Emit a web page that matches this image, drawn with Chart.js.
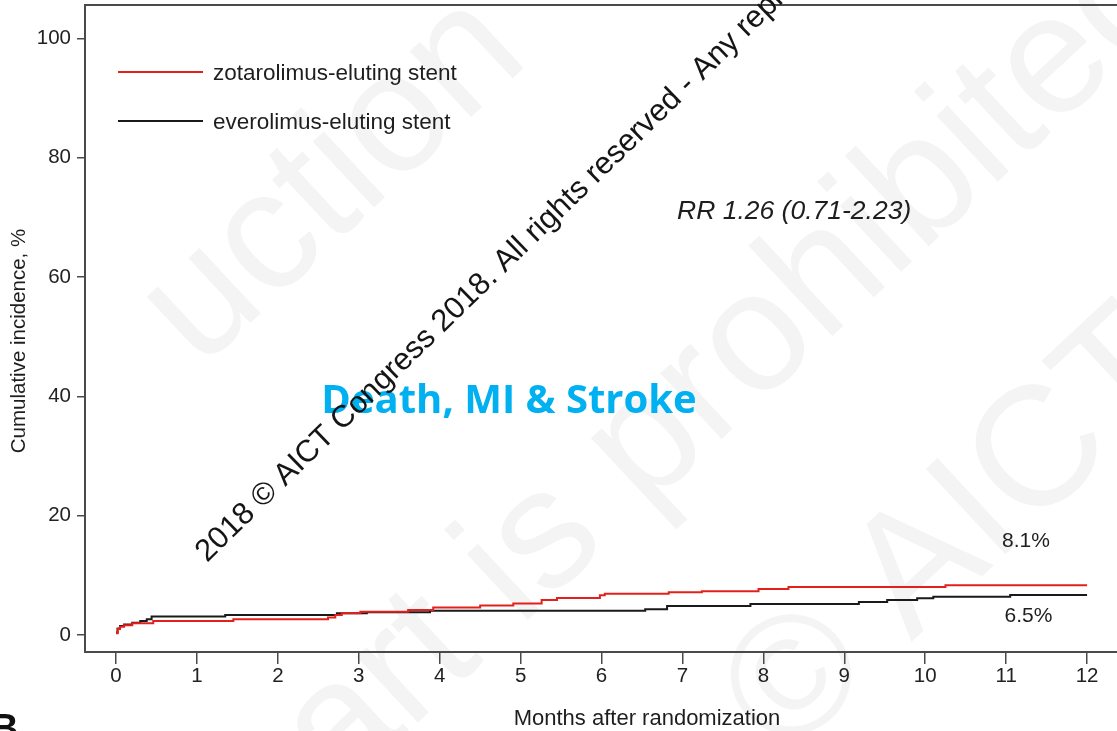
<!DOCTYPE html>
<html>
<head>
<meta charset="utf-8">
<script src="https://cdn.jsdelivr.net/npm/chart.js@4.4.1/dist/chart.umd.min.js"></script>
<style>
  html, body { margin: 0; padding: 0; background: #fff; overflow: hidden; }
  #wrap { width: 1117px; height: 731px; }
</style>
</head>
<body>
<div id="wrap"><canvas id="km" width="1117" height="731"></canvas></div>
<script>
// Kaplan-Meier style cumulative incidence
const seriesNames = ['zotarolimus-eluting stent', 'everolimus-eluting stent'];
const seriesColors = ['#e4201c', '#1a1a1a'];

const zotMonths = [0, 0.02, 0.05, 0.1, 0.2, 0.46, 1.45, 2.62, 2.71, 2.79, 3.02, 3.61, 3.92, 4.5, 4.91, 5.26, 5.45, 5.98, 6.04, 6.83, 7.24, 7.94, 8.31, 10.25, 12];
const zotPct    = [0.3, 1.0, 1.4, 1.65, 1.95, 2.35, 2.65, 2.95, 3.35, 3.65, 3.9, 4.2, 4.6, 4.95, 5.3, 5.85, 6.2, 6.65, 6.9, 7.15, 7.35, 7.7, 8.05, 8.35, 8.35];

const everMonths = [0, 0.02, 0.05, 0.1, 0.2, 0.3, 0.38, 0.44, 1.35, 2.73, 3.1, 3.88, 6.54, 6.81, 7.84, 9.18, 9.53, 9.9, 10.1, 11.05, 12];
const everPct    = [0.4, 1.1, 1.5, 1.75, 2.05, 2.35, 2.65, 3.08, 3.35, 3.65, 3.8, 4.05, 4.3, 4.85, 5.2, 5.55, 5.85, 6.15, 6.4, 6.7, 6.7];

const xTicks = [0, 1, 2, 3, 4, 5, 6, 7, 8, 9, 10, 11, 12];
const yTicks = [0, 20, 40, 60, 80, 100];
const endLabels = ['8.1%', '6.5%'];
const rrText = 'RR 1.26 (0.71-2.23)';
const xTitle = 'Months after randomization';
const yTitle = 'Cumulative incidence, %';
const panelTitle = 'Death, MI & Stroke';
const watermark = '2018 \u00A9 AICT Congress 2018. All rights reserved - Any reproduction';

const FONT = '"Liberation Sans", Arial, sans-serif';
const AXIS = '#4a4a4a';

function toPoints(xs, ys) {
    return xs.map((x, i) => ({ x: x, y: ys[i] }));
}

function rotatedText(ctx, text, x, y, deg) {
    ctx.save();
    ctx.translate(x, y);
    ctx.rotate(deg * Math.PI / 180);
    ctx.fillText(text, 0, 0);
    ctx.restore();
}

const decor = {
    id: 'decor',
    beforeDraw(chart) {
        // faint background watermark
        const ctx = chart.ctx;
        ctx.save();
        ctx.fillStyle = '#f4f4f4';
        ctx.font = '170px ' + FONT;
        ctx.textBaseline = 'alphabetic';
        rotatedText(ctx, 'uction', 200, 370, -43);
        rotatedText(ctx, 'art is prohibited', 340, 795, -43);
        rotatedText(ctx, '\u00A9 AICT', 785, 760, -43);
        ctx.restore();
    },
    afterDraw(chart) {
        const ctx = chart.ctx;
        const area = chart.chartArea;
        const xs = chart.scales.x;
        const ys = chart.scales.y;

        ctx.save();
        // top frame line
        ctx.strokeStyle = AXIS;
        ctx.lineWidth = 2;
        ctx.beginPath();
        ctx.moveTo(area.left, area.top);
        ctx.lineTo(area.right, area.top);
        ctx.stroke();

        // legend
        ctx.font = '22.5px ' + FONT;
        ctx.fillStyle = '#1e1e1e';
        ctx.textBaseline = 'alphabetic';
        chart.data.datasets.forEach((ds, i) => {
            const ly = 72 + i * 49;
            ctx.strokeStyle = ds.borderColor;
            ctx.lineWidth = 2;
            ctx.beginPath();
            ctx.moveTo(118, ly);
            ctx.lineTo(203, ly);
            ctx.stroke();
            ctx.fillText(ds.label, 213, ly + 8);
        });

        // hazard ratio
        ctx.font = 'italic 26.5px ' + FONT;
        ctx.fillText(rrText, 677, 219);

        // end-of-follow-up rates
        ctx.font = '21px ' + FONT;
        ctx.fillText(endLabels[0], xs.getPixelForValue(10.95), ys.getPixelForValue(14.75));
        ctx.fillText(endLabels[1], xs.getPixelForValue(10.98), ys.getPixelForValue(2.1));

        // axis titles
        ctx.font = '22px ' + FONT;
        ctx.textAlign = 'center';
        ctx.fillText(xTitle, 647, 725);
        ctx.font = '20.5px ' + FONT;
        rotatedText(ctx, yTitle, 25, 341, -90);

        // panel title
        ctx.font = 'bold 40px "Open Sans", ' + FONT;
        ctx.fillStyle = '#00b0f0';
        ctx.fillText(panelTitle, 509, 413);

        // panel letter, mostly cut off
        ctx.textAlign = 'left';
        ctx.fillStyle = '#111';
        ctx.font = 'bold 38px ' + FONT;
        ctx.fillText('B', -9, 741);

        // diagonal copyright line
        ctx.font = '31px ' + FONT;
        ctx.fillStyle = '#151515';
        rotatedText(ctx, watermark, 207, 563, -44.2);
        ctx.restore();
    }
};

new Chart(document.getElementById('km'), {
    type: 'line',
    data: {
        datasets: [
            { label: seriesNames[0], data: toPoints(zotMonths, zotPct), borderColor: seriesColors[0] },
            { label: seriesNames[1], data: toPoints(everMonths, everPct), borderColor: seriesColors[1] }
        ]
    },
    options: {
        responsive: false,
        animation: false,
        events: [],
        layout: { padding: { left: 0, right: 0, top: 5, bottom: 0 } },
        elements: {
            line: { borderWidth: 2, stepped: 'before', tension: 0 },
            point: { radius: 0 }
        },
        plugins: { legend: { display: false }, tooltip: { enabled: false } },
        scales: {
            x: {
                type: 'linear',
                min: -0.383,
                max: 12.37,
                afterBuildTicks: s => { s.ticks = xTicks.map(v => ({ value: v })); },
                afterFit: s => { s.height = 79; s.paddingLeft = 0; s.paddingRight = 0; },
                ticks: { font: { family: FONT, size: 20.5 }, color: '#222', padding: 0, maxRotation: 0, autoSkip: false },
                grid: { drawOnChartArea: false, drawTicks: true, tickLength: 12, color: AXIS, lineWidth: 1.5 },
                border: { display: true, color: AXIS, width: 2 },
                title: { display: false }
            },
            y: {
                type: 'linear',
                min: -2.85,
                max: 105.6,
                afterBuildTicks: s => { s.ticks = yTicks.map(v => ({ value: v })); },
                afterFit: s => { s.width = 85; s.paddingTop = 0; s.paddingBottom = 0; },
                ticks: { font: { family: FONT, size: 20.5 }, color: '#222', padding: 6, autoSkip: false },
                grid: { drawOnChartArea: false, drawTicks: true, tickLength: 8, color: AXIS, lineWidth: 1.5 },
                border: { display: true, color: AXIS, width: 2 },
                title: { display: false }
            }
        }
    },
    plugins: [decor]
});
</script>
</body>
</html>
